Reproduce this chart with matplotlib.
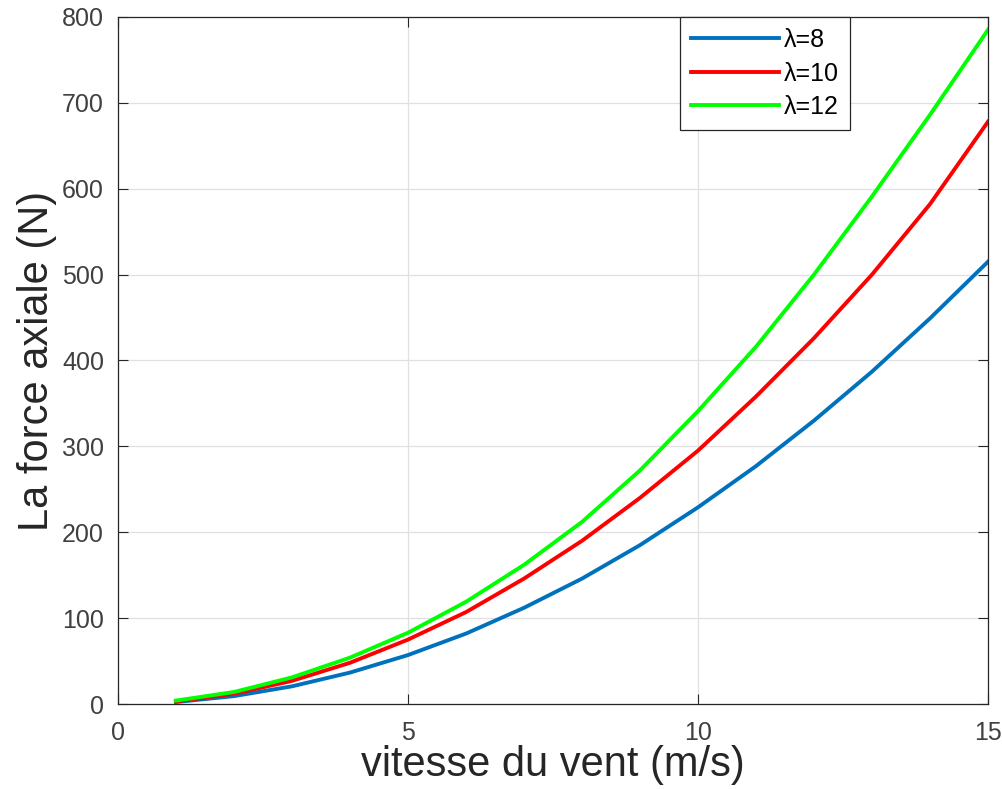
import numpy as np
import matplotlib.pyplot as plt

plt.rcParams['font.family'] = ['Liberation Sans', 'DejaVu Sans']

# wind speed (m/s)
vitesse = [1, 2, 3, 4, 5, 6, 7, 8, 9, 10, 11, 12, 13, 14, 15]

# axial force (N) for each tip speed ratio
force_l8 = [2.3, 9.2, 20.6, 36.6, 57, 82, 112, 146, 185, 229, 277, 330, 387, 449, 515]
force_l10 = [3, 12, 27, 48, 75, 107, 146, 190, 240, 295, 358, 426, 500, 582, 678]
force_l12 = [4, 14, 31, 54, 83, 119, 162, 212, 272, 341, 416, 500, 591, 686, 785]

labels = ['λ=8', 'λ=10', 'λ=12']
colors = ['#0072BD', '#FF0000', '#00FF00']

fig = plt.figure(figsize=(10.03, 7.89), dpi=100)
ax = fig.add_axes([0.1176, 0.1077, 0.8674, 0.8708])

for y, lab, c in zip([force_l8, force_l10, force_l12], labels, colors):
    ax.plot(vitesse, y, color=c, linewidth=2.8, label=lab)

ax.set_xlim(0, 15)
ax.set_ylim(0, 800)
ax.set_xticks([0, 5, 10, 15])
ax.set_yticks(np.arange(0, 801, 100))
ax.grid(True, color='#e0e0e0', linewidth=0.9)
ax.set_axisbelow(True)
ax.tick_params(direction='in', top=True, right=True, labelsize=18,
               labelcolor='#404040', color='#262626', length=7, pad=10)
ax.tick_params(axis='x', pad=12)
for s in ax.spines.values():
    s.set_color('#262626')
    s.set_linewidth(0.9)

ax.set_xlabel('vitesse du vent (m/s)', fontsize=30, color='#262626', labelpad=0)
ax.set_ylabel('La force axiale (N)', fontsize=30, color='#262626', labelpad=4)

leg = ax.legend(loc='upper left', bbox_to_anchor=(0.646, 1.0), fontsize=18,
                handlelength=3.5, fancybox=False, framealpha=1,
                borderpad=0.45, labelspacing=0.38, handletextpad=0.2,
                borderaxespad=0)
leg.get_frame().set_edgecolor('#262626')
leg.get_frame().set_linewidth(0.9)

fig.savefig('out.png', dpi=100, facecolor='white')
